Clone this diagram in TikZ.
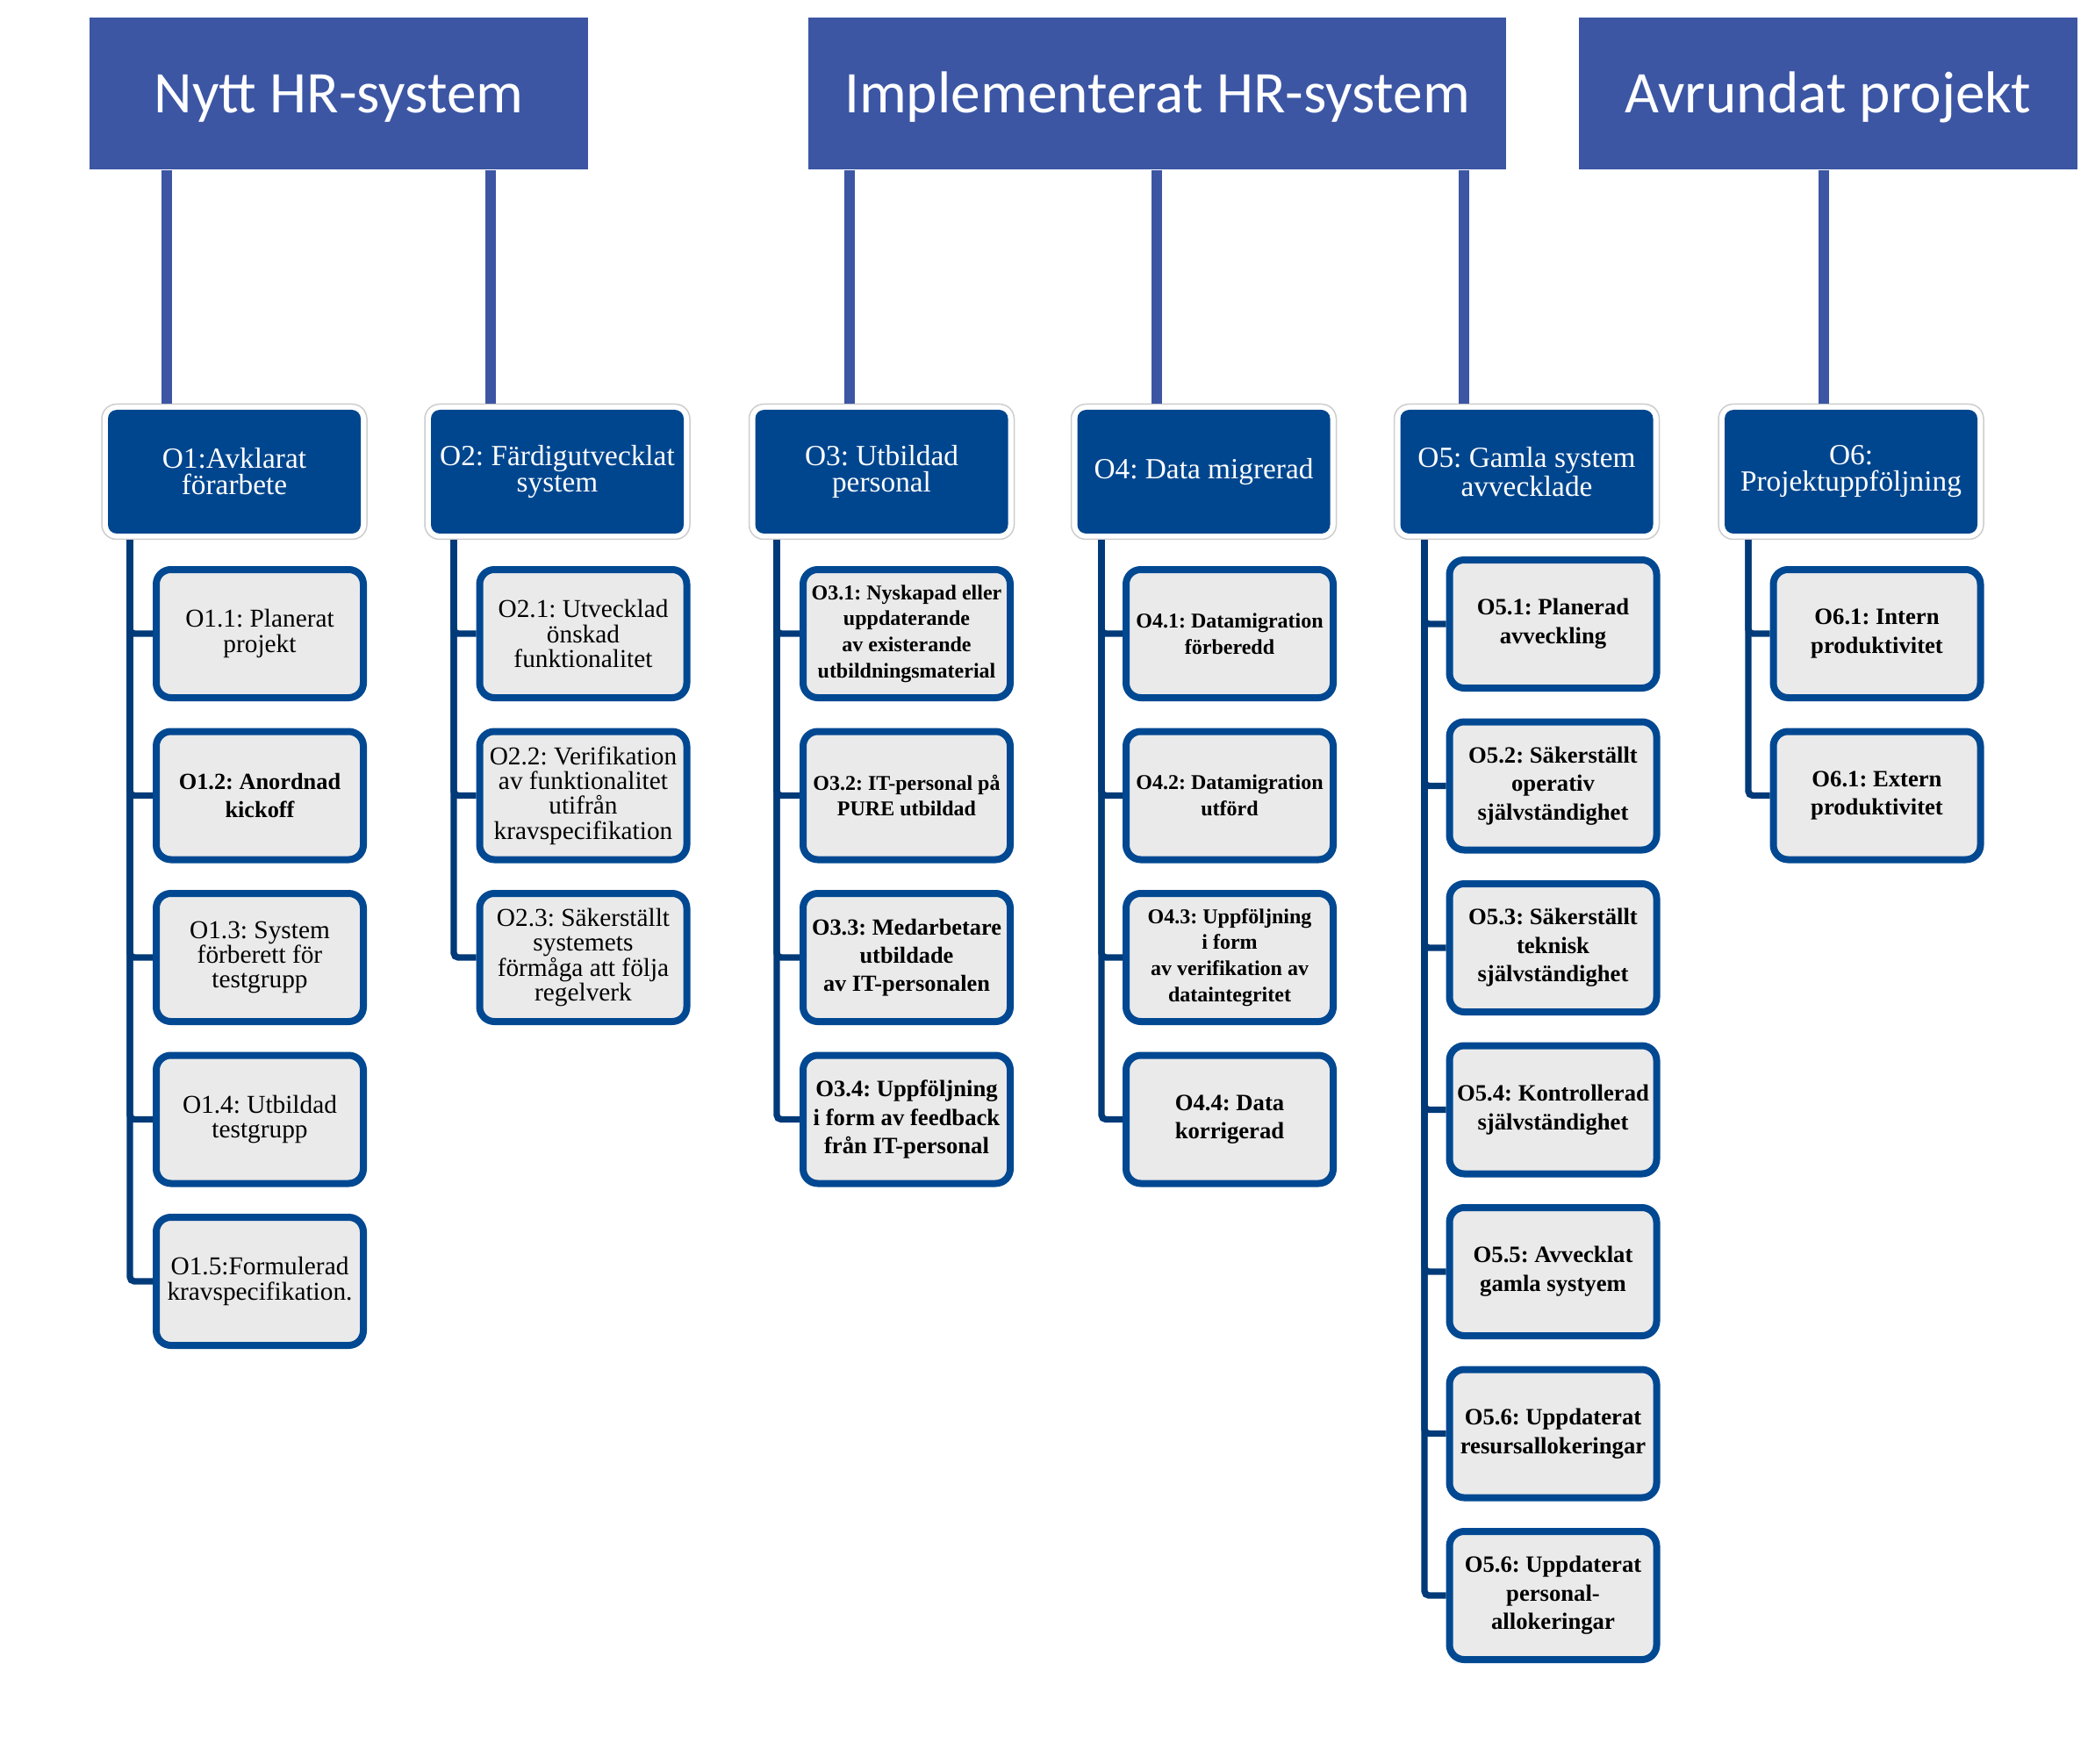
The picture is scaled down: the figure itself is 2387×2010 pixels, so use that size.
\documentclass[tikz,border=0pt]{standalone}
\usepackage{fontspec}
\setmainfont{Liberation Serif}
\newfontfamily\hdrfont{Carlito}
\frenchspacing
\definecolor{hdrblue}{RGB}{60,86,164}
\definecolor{lvlblue}{RGB}{0,70,143}
\definecolor{leafborder}{RGB}{0,72,145}
\definecolor{leafgray}{RGB}{234,234,234}
\definecolor{treeblue}{RGB}{0,58,120}
\definecolor{outergray}{RGB}{205,205,205}
\tikzset{
  hdrbox/.style={fill=hdrblue, minimum height=51.9pt, inner sep=0pt, text=white,
    text height=13pt, text depth=0pt,
    font=\hdrfont\fontsize{20.2pt}{23pt}\selectfont},
  lvlouter/.style={draw=outergray, line width=0.45pt, fill=white, rounded corners=5pt,
    minimum width=90.6pt, minimum height=46.2pt, inner sep=0pt},
  lvlbox/.style={fill=lvlblue, rounded corners=3pt, minimum width=86.4pt, minimum height=42.3pt,
    inner sep=0pt, text=white, align=center, font=\fontsize{10pt}{9pt}\selectfont},
  leaf/.style={draw=leafborder, line width=2.4pt, fill=leafgray, rounded corners=5pt,
    minimum width=70.8pt, minimum height=43.8pt, inner sep=0pt, align=center},
  geo/.style={font=\fontsize{8.8pt}{8.5pt}\selectfont},
  tsmall/.style={font=\bfseries\fontsize{7.2pt}{8.9pt}\selectfont},
  tmid/.style={font=\bfseries\fontsize{7.9pt}{9.6pt}\selectfont},
  tbig/.style={font=\bfseries\fontsize{8pt}{9.8pt}\selectfont},
  hline/.style={draw=hdrblue, line width=3.6pt},
  tline/.style={draw=treeblue, line width=2.2pt, rounded corners=1.5pt},
}
\begin{document}
\begin{tikzpicture}[x=0.3pt, y=-0.3pt]
\useasboundingbox (0,0) rectangle (2387,2010);

% headers
\node[hdrbox, minimum width=170.4pt] (h1) at (386,106.5) {Nytt HR-system};
\node[hdrbox, minimum width=238.5pt] (h2) at (1318.5,106.5) {Implementerat HR-system};
\node[hdrbox, minimum width=170.4pt] (h3) at (2083,106.5) {Avrundat projekt};

% level 2
\node[lvlouter] (o1o) at (267,537.5) {};
\node[lvlbox] (o1) at (267,537.5) {O1:Avklarat\\förarbete};
\node[lvlouter] (o2o) at (635,537.5) {};
\node[lvlbox] (o2) at (635,537.5) {O2: Färdigutvecklat\\system};
\node[lvlouter] (o3o) at (1004.5,537.5) {};
\node[lvlbox] (o3) at (1004.5,537.5) {O3: Utbildad\\personal};
\node[lvlouter] (o4o) at (1371.5,537.5) {};
\node[lvlbox] (o4) at (1371.5,537.5) {O4: Data migrerad};
\node[lvlouter] (o5o) at (1739.5,537.5) {};
\node[lvlbox] (o5) at (1739.5,537.5) {O5: Gamla system\\avvecklade};
\node[lvlouter] (o6o) at (2109,537.5) {};
\node[lvlbox] (o6) at (2109,537.5) {O6:\\Projektuppföljning};

% header connectors
\coordinate (x1) at (190,0);
\coordinate (x2) at (559,0);
\coordinate (x3) at (968,0);
\coordinate (x4) at (1318,0);
\coordinate (x5) at (1668,0);
\coordinate (x6) at (2078,0);
\draw[hline] (h1.south -| x1) -- (o1o.north -| x1);
\draw[hline] (h1.south -| x2) -- (o2o.north -| x2);
\draw[hline] (h2.south -| x3) -- (o3o.north -| x3);
\draw[hline] (h2.south -| x4) -- (o4o.north -| x4);
\draw[hline] (h2.south -| x5) -- (o5o.north -| x5);
\draw[hline] (h3.south -| x6) -- (o6o.north -| x6);

% column 1
\node[leaf, geo]  (c11) at (296,722)    {O1.1: Planerat\\projekt};
\node[leaf, tmid] (c12) at (296,906.5)  {O1.2: Anordnad\\kickoff};
\node[leaf, geo]  (c13) at (296,1091)   {O1.3: System\\förberett för\\testgrupp};
\node[leaf, geo]  (c14) at (296,1275.5) {O1.4: Utbildad\\testgrupp};
\node[leaf, geo]  (c15) at (296,1460)   {O1.5:Formulerad\\kravspecifikation.};

% column 2
\node[leaf, geo] (c21) at (664.5,722)   {O2.1: Utvecklad\\önskad\\funktionalitet};
\node[leaf, geo] (c22) at (664.5,906.5) {O2.2: Verifikation\\av funktionalitet\\utifrån\\kravspecifikation};
\node[leaf, geo] (c23) at (664.5,1091)  {O2.3: Säkerställt\\systemets\\förmåga att följa\\regelverk};

% column 3
\node[leaf, tsmall] (c31) at (1033,722)    {O3.1: Nyskapad eller\\uppdaterande\\av existerande\\utbildningsmaterial};
\node[leaf, tsmall] (c32) at (1033,906.5)  {O3.2: IT-personal på\\PURE utbildad};
\node[leaf, tmid]   (c33) at (1033,1091)   {O3.3: Medarbetare\\utbildade\\av IT-personalen};
\node[leaf, tbig]   (c34) at (1033,1275.5) {O3.4: Uppföljning\\i form av feedback\\från IT-personal};

% column 4
\node[leaf, tsmall] (c41) at (1401,722)    {O4.1: Datamigration\\förberedd};
\node[leaf, tsmall] (c42) at (1401,906.5)  {O4.2: Datamigration\\utförd};
\node[leaf, tsmall] (c43) at (1401,1091)   {O4.3: Uppföljning\\i form\\av verifikation av\\dataintegritet};
\node[leaf, tbig]   (c44) at (1401,1275.5) {O4.4: Data\\korrigerad};

% column 5
\node[leaf, tbig] (c51) at (1769.5,711)    {O5.1: Planerad\\avveckling};
\node[leaf, tbig] (c52) at (1769.5,895.5)  {O5.2: Säkerställt\\operativ\\självständighet};
\node[leaf, tbig] (c53) at (1769.5,1080)   {O5.3: Säkerställt\\teknisk\\självständighet};
\node[leaf, tbig] (c54) at (1769.5,1264.5) {O5.4: Kontrollerad\\självständighet};
\node[leaf, tbig] (c55) at (1769.5,1449)   {O5.5: Avvecklat\\gamla systyem};
\node[leaf, tbig] (c56) at (1769.5,1633.5) {O5.6: Uppdaterat\\resursallokeringar};
\node[leaf, tbig] (c57) at (1769.5,1818)   {O5.6: Uppdaterat\\personal-\\allokeringar};

% column 6
\node[leaf, tbig] (c61) at (2138.5,722)   {O6.1: Intern\\produktivitet};
\node[leaf, tbig] (c62) at (2138.5,906.5) {O6.1: Extern\\produktivitet};

% tree lines
\coordinate (t1) at (148,0);
\coordinate (t2) at (517,0);
\coordinate (t3) at (885,0);
\coordinate (t4) at (1255,0);
\coordinate (t5) at (1623,0);
\coordinate (t6) at (1992,0);
\foreach \c in {c11,c12,c13,c14,c15} {\draw[tline] (o1o.south -| t1) |- (\c.west);}
\foreach \c in {c21,c22,c23} {\draw[tline] (o2o.south -| t2) |- (\c.west);}
\foreach \c in {c31,c32,c33,c34} {\draw[tline] (o3o.south -| t3) |- (\c.west);}
\foreach \c in {c41,c42,c43,c44} {\draw[tline] (o4o.south -| t4) |- (\c.west);}
\foreach \c in {c51,c52,c53,c54,c55,c56,c57} {\draw[tline] (o5o.south -| t5) |- (\c.west);}
\foreach \c in {c61,c62} {\draw[tline] (o6o.south -| t6) |- (\c.west);}
\end{tikzpicture}
\end{document}
